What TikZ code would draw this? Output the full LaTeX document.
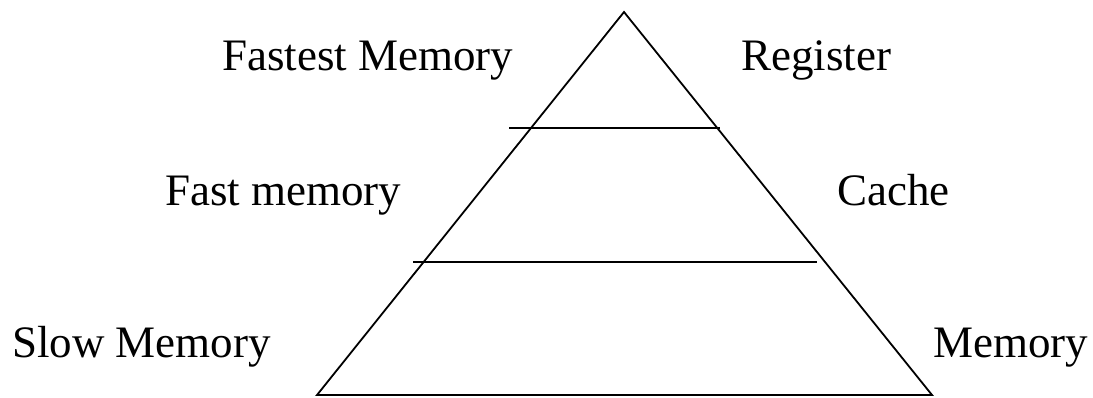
\documentclass[tikz,border=0pt]{standalone}
\usepackage{fontspec}
\setmainfont{Liberation Serif}
\begin{document}
\begin{tikzpicture}[x=1pt,y=-1pt,
  lbl/.style={anchor=base west,inner sep=0pt,font=\fontsize{45}{50}\selectfont},
  edge/.style={line width=1.8pt,black}]
\useasboundingbox (0,0) rectangle (1093,397);
\coordinate (apex) at (624,12);
\coordinate (bl) at (317,395);
\coordinate (br) at (932,395);
\coordinate (a1) at (509,128);
\coordinate (a2) at (720,128);
\coordinate (b1) at (413,262);
\coordinate (b2) at (817,262);
\draw[edge,line join=miter] (apex) -- (bl) -- (br) -- cycle;
\draw[edge] (a1) -- (a2);
\draw[edge] (b1) -- (b2);
\node[lbl] (t1) at (222,70) {Fastest Memory};
\node[lbl] (t2) at (741,70) {Register};
\node[lbl] (t3) at (165,205) {Fast memory};
\node[lbl] (t4) at (837,205) {Cache};
\node[lbl] (t5) at (12,357) {Slow Memory};
\node[lbl] (t6) at (933,357) {Memory};
\end{tikzpicture}
\end{document}
